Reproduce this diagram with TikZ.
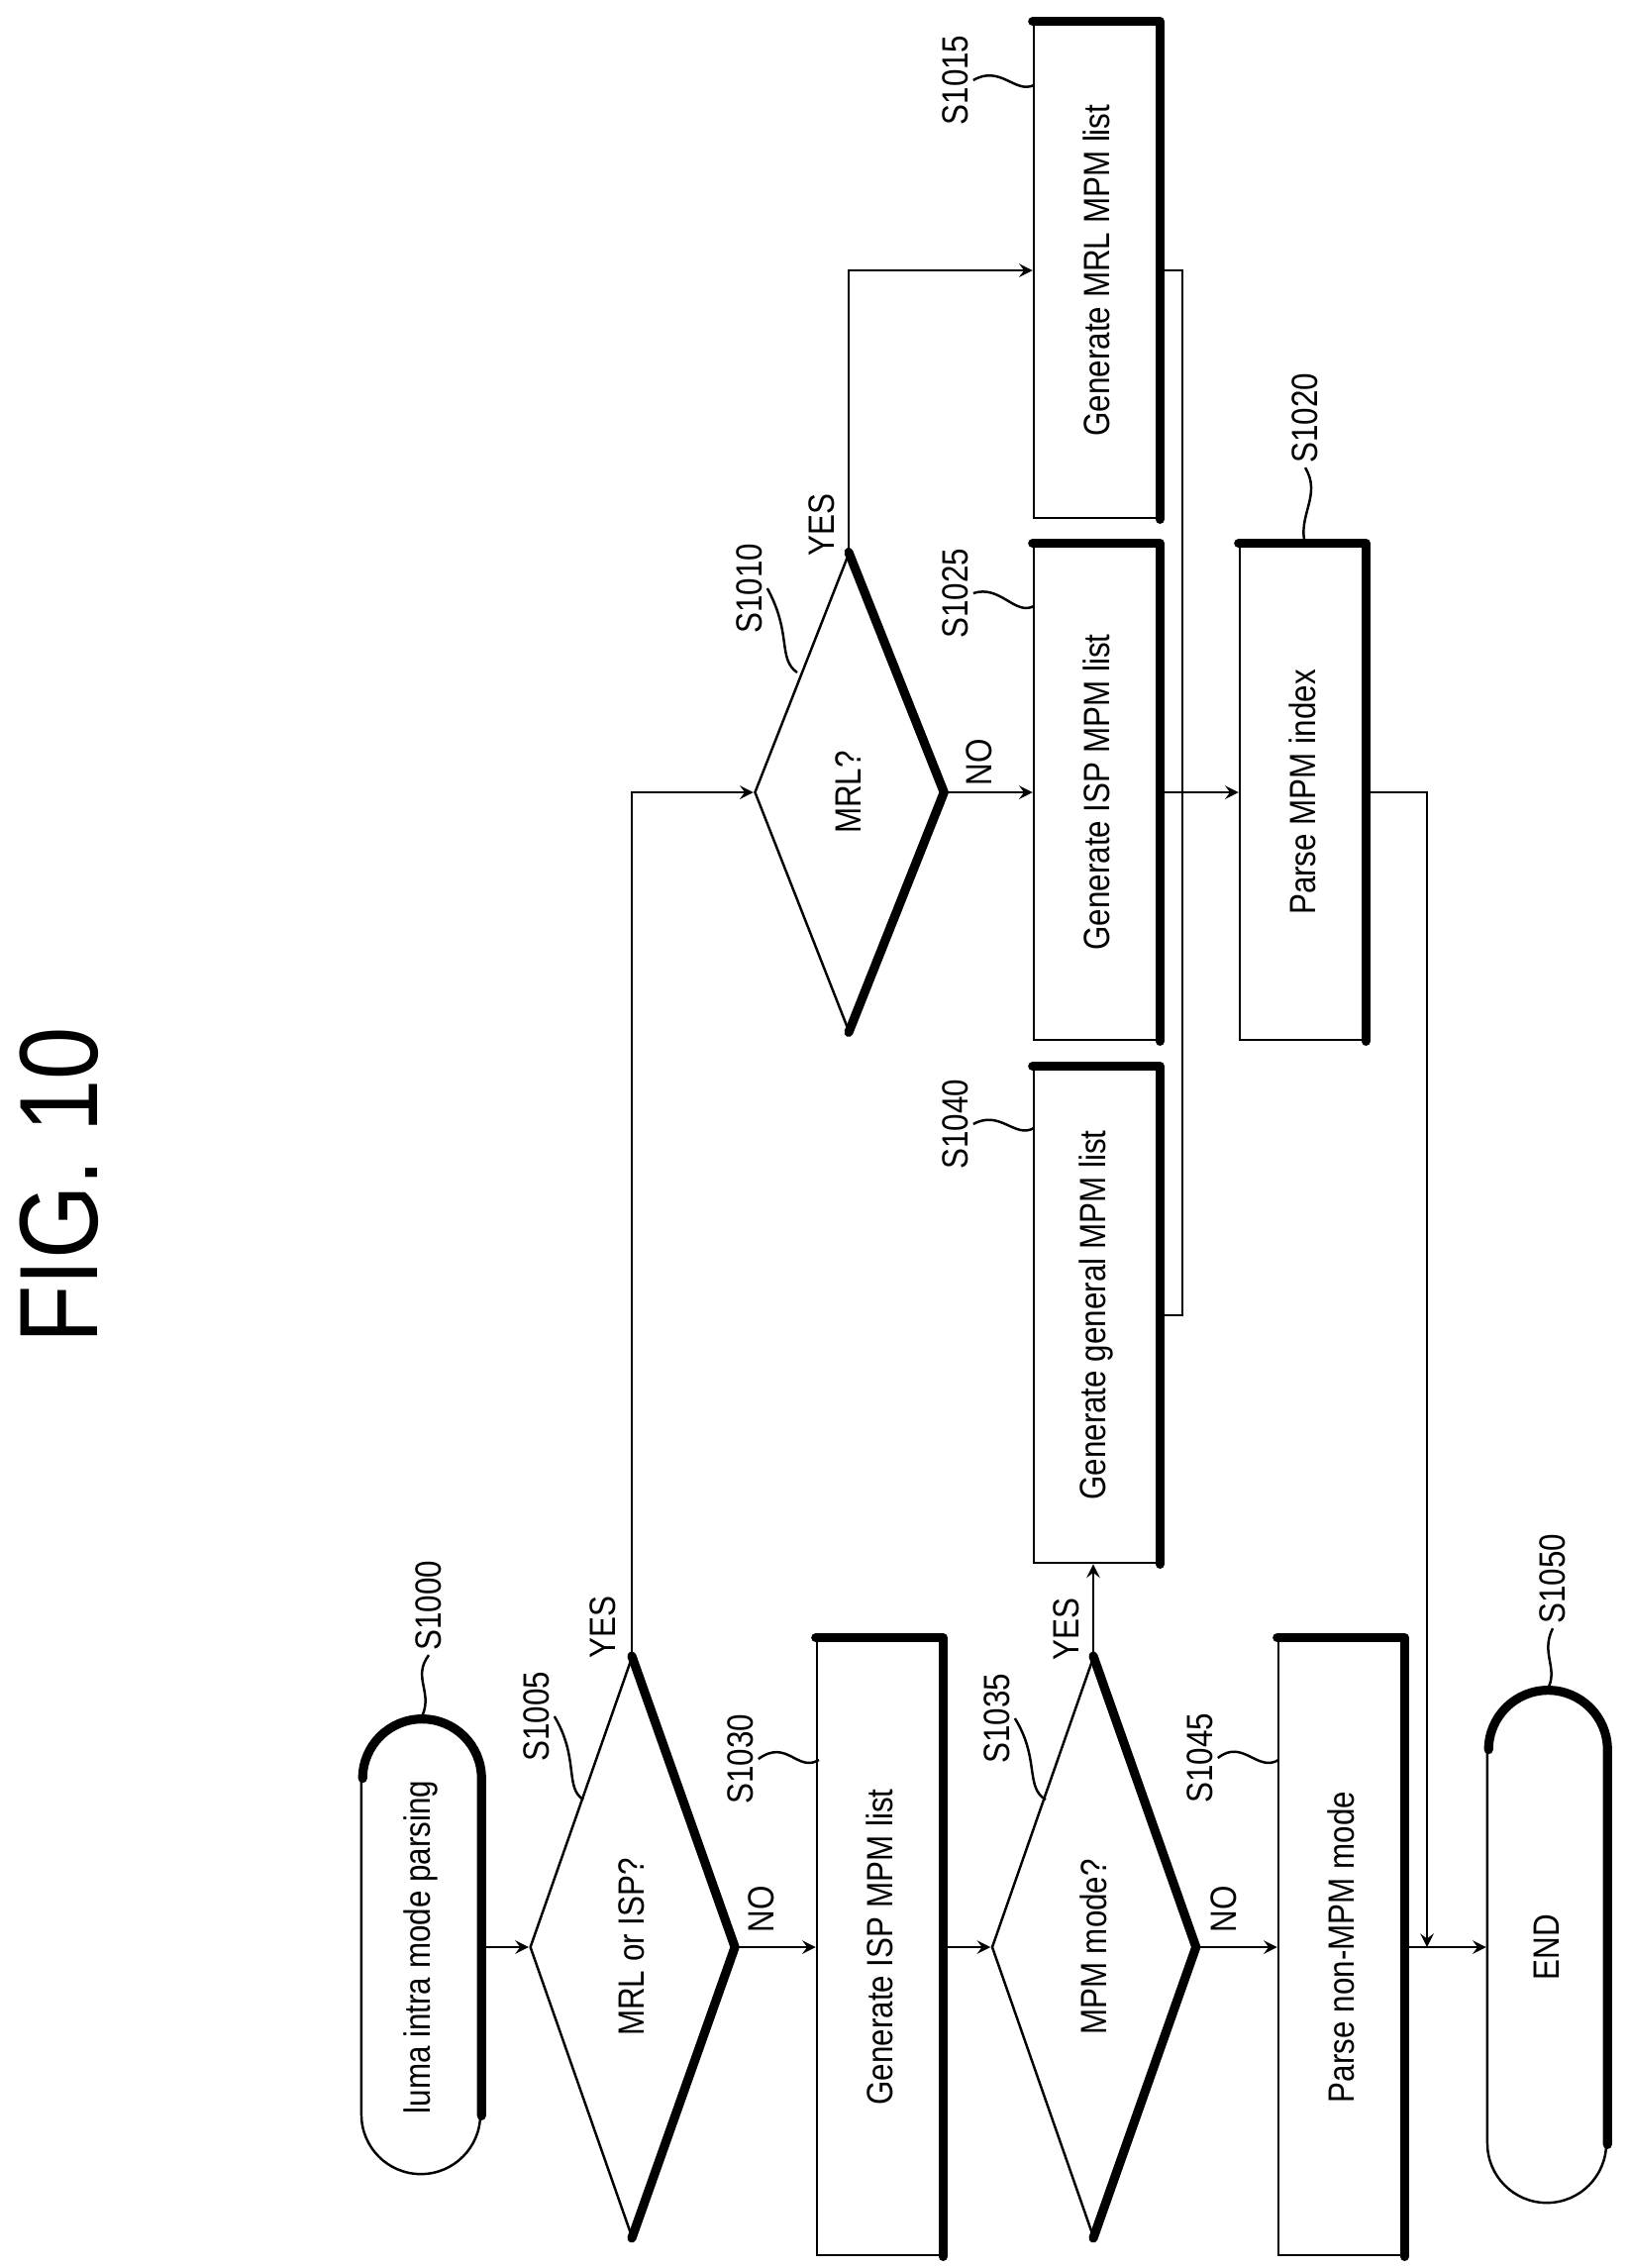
\documentclass[tikz,border=0pt]{standalone}
\usepackage{fontspec}
\setmainfont{Liberation Sans}[FakeStretch=0.85]
\usetikzlibrary{shapes.geometric, arrows}
\tikzstyle{box} = [rectangle, rotate=90, minimum width=5cm, minimum height=1.26cm, inner sep=0pt, text centered, draw=black, fill=white]
\tikzstyle{term} = [rectangle, rounded corners=0.6cm, rotate=90, minimum height=1.2cm, inner sep=0pt, text centered, draw=black, fill=white]
\tikzstyle{dec} = [diamond, rotate=90, minimum width=5.85cm, minimum height=1.94cm, inner sep=0pt, text centered, draw=black, fill=white]
\tikzstyle{tag} = [rotate=90, inner sep=1pt]
\tikzstyle{yn} = [rotate=90, inner sep=1pt]
\tikzstyle{heavy} = [line width=2.6pt, line cap=round, line join=round]
\tikzstyle{arrow} = [line width=0.7pt,->,>=stealth]

\begin{document}
\begin{tikzpicture}[x=0.01cm, y=-0.01cm, line width=0.7pt, font=\fontsize{10.5}{12}\selectfont]
\useasboundingbox (0,0) rectangle (1645,2290);

\node[rotate=90, font=\fontsize{32}{36}\selectfont] (title) at (60,1197) {FIG. 10};

% main column
\node (s1000) [term, minimum width=4.58cm] at (425,1966) {luma intra mode parsing};
\node (s1005) [dec] at (638,1966) {MRL or ISP?};
\node (s1030) [box, minimum width=6.22cm] at (888,1966) {Generate ISP MPM list};
\node (s1035) [dec] at (1104,1966) {MPM mode?};
\node (s1045) [box, minimum width=6.22cm] at (1354,1966) {Parse non-MPM mode};
\node (s1050) [term, minimum width=5.16cm] at (1562,1966) {END};

% upper part
\node (s1010) [dec, minimum width=4.82cm, minimum height=1.9cm] at (857,800) {MRL?};
\node (s1015) [box] at (1107,273) {Generate MRL MPM list};
\node (s1025) [box] at (1107,800) {Generate ISP MPM list};
\node (s1040) [box] at (1107,1328) {Generate general MPM list};
\node (s1020) [box] at (1315,800) {Parse MPM index};

% heavy edges
\foreach \n in {s1030,s1045,s1015,s1025,s1040,s1020}
  \draw[heavy] (\n.north east) -- (\n.south east) -- (\n.south west);
\foreach \n in {s1005,s1035,s1010}
  \draw[heavy] (\n.east) -- (\n.south) -- (\n.west);
\foreach \n in {s1000,s1050}
  \draw[heavy] ([yshift=0.6cm]\n.south west) -- ([yshift=-0.6cm]\n.south east)
    arc[start angle=0, end angle=180, radius=0.6cm];

% step labels
\node (t1000) [tag] at (433,1621) {S1000};
\node (t1005) [tag] at (542,1733) {S1005};
\node (t1030) [tag] at (748,1776) {S1030};
\node (t1035) [tag] at (1007,1735) {S1035};
\node (t1045) [tag] at (1212,1775) {S1045};
\node (t1050) [tag] at (1568,1594) {S1050};
\node (t1010) [tag] at (757,594) {S1010};
\node (t1015) [tag] at (965,81) {S1015};
\node (t1025) [tag] at (965,599) {S1025};
\node (t1040) [tag] at (965,1135) {S1040};
\node (t1020) [tag] at (1318,422) {S1020};

\draw (t1000.west) .. controls (415,1695) and (440,1710) .. (424,1737);
\draw (t1005.south) .. controls (585,1775) and (570,1805) .. (589,1817);
\draw (t1030.south) .. controls (795,1755) and (805,1790) .. (827,1777);
\draw (t1035.south) .. controls (1050,1775) and (1035,1805) .. (1056,1817);
\draw (t1045.south) .. controls (1255,1755) and (1270,1790) .. (1291,1777);
\draw (t1050.west) .. controls (1555,1670) and (1575,1685) .. (1562,1707);
\draw (t1010.south) .. controls (800,640) and (785,665) .. (805,679);
\draw (t1015.south) .. controls (1010,65) and (1025,95) .. (1044,86);
\draw (t1025.south) .. controls (1010,590) and (1025,622) .. (1044,612);
\draw (t1040.south) .. controls (1010,1120) and (1025,1150) .. (1044,1139);
\draw (t1020.west) .. controls (1335,500) and (1310,520) .. (1318,550);

% connectors
\coordinate (j) at (1194,273);
\coordinate (m) at (1441,1966);
\draw[arrow] (s1000) -- (s1005);
\draw[arrow] (s1005.south) -- (s1030);
\draw[arrow] (s1030) -- (s1035.north);
\draw[arrow] (s1035.south) -- (s1045);
\draw[arrow] (s1045) -- (s1050);
\draw[arrow] (s1005.east) |- (s1010.north);
\draw[arrow] (s1010.east) |- (s1015.north);
\draw[arrow] (s1010.south) -- (s1025);
\draw[arrow] (s1035.east) -- (s1035.east |- s1040.west);
\draw (s1015.south) -- (j) -- (j |- s1040.south) -- (s1040.south);
\draw[arrow] (s1025) -- (s1020);
\draw[arrow] (s1020.south) -| (m);

% branch labels
\node[yn] at (609,1643) {YES};
\node[yn] at (769,1928) {NO};
\node[yn] at (1077,1645) {YES};
\node[yn] at (1236,1928) {NO};
\node[yn] at (830,530) {YES};
\node[yn] at (989,770) {NO};

\end{tikzpicture}
\end{document}
